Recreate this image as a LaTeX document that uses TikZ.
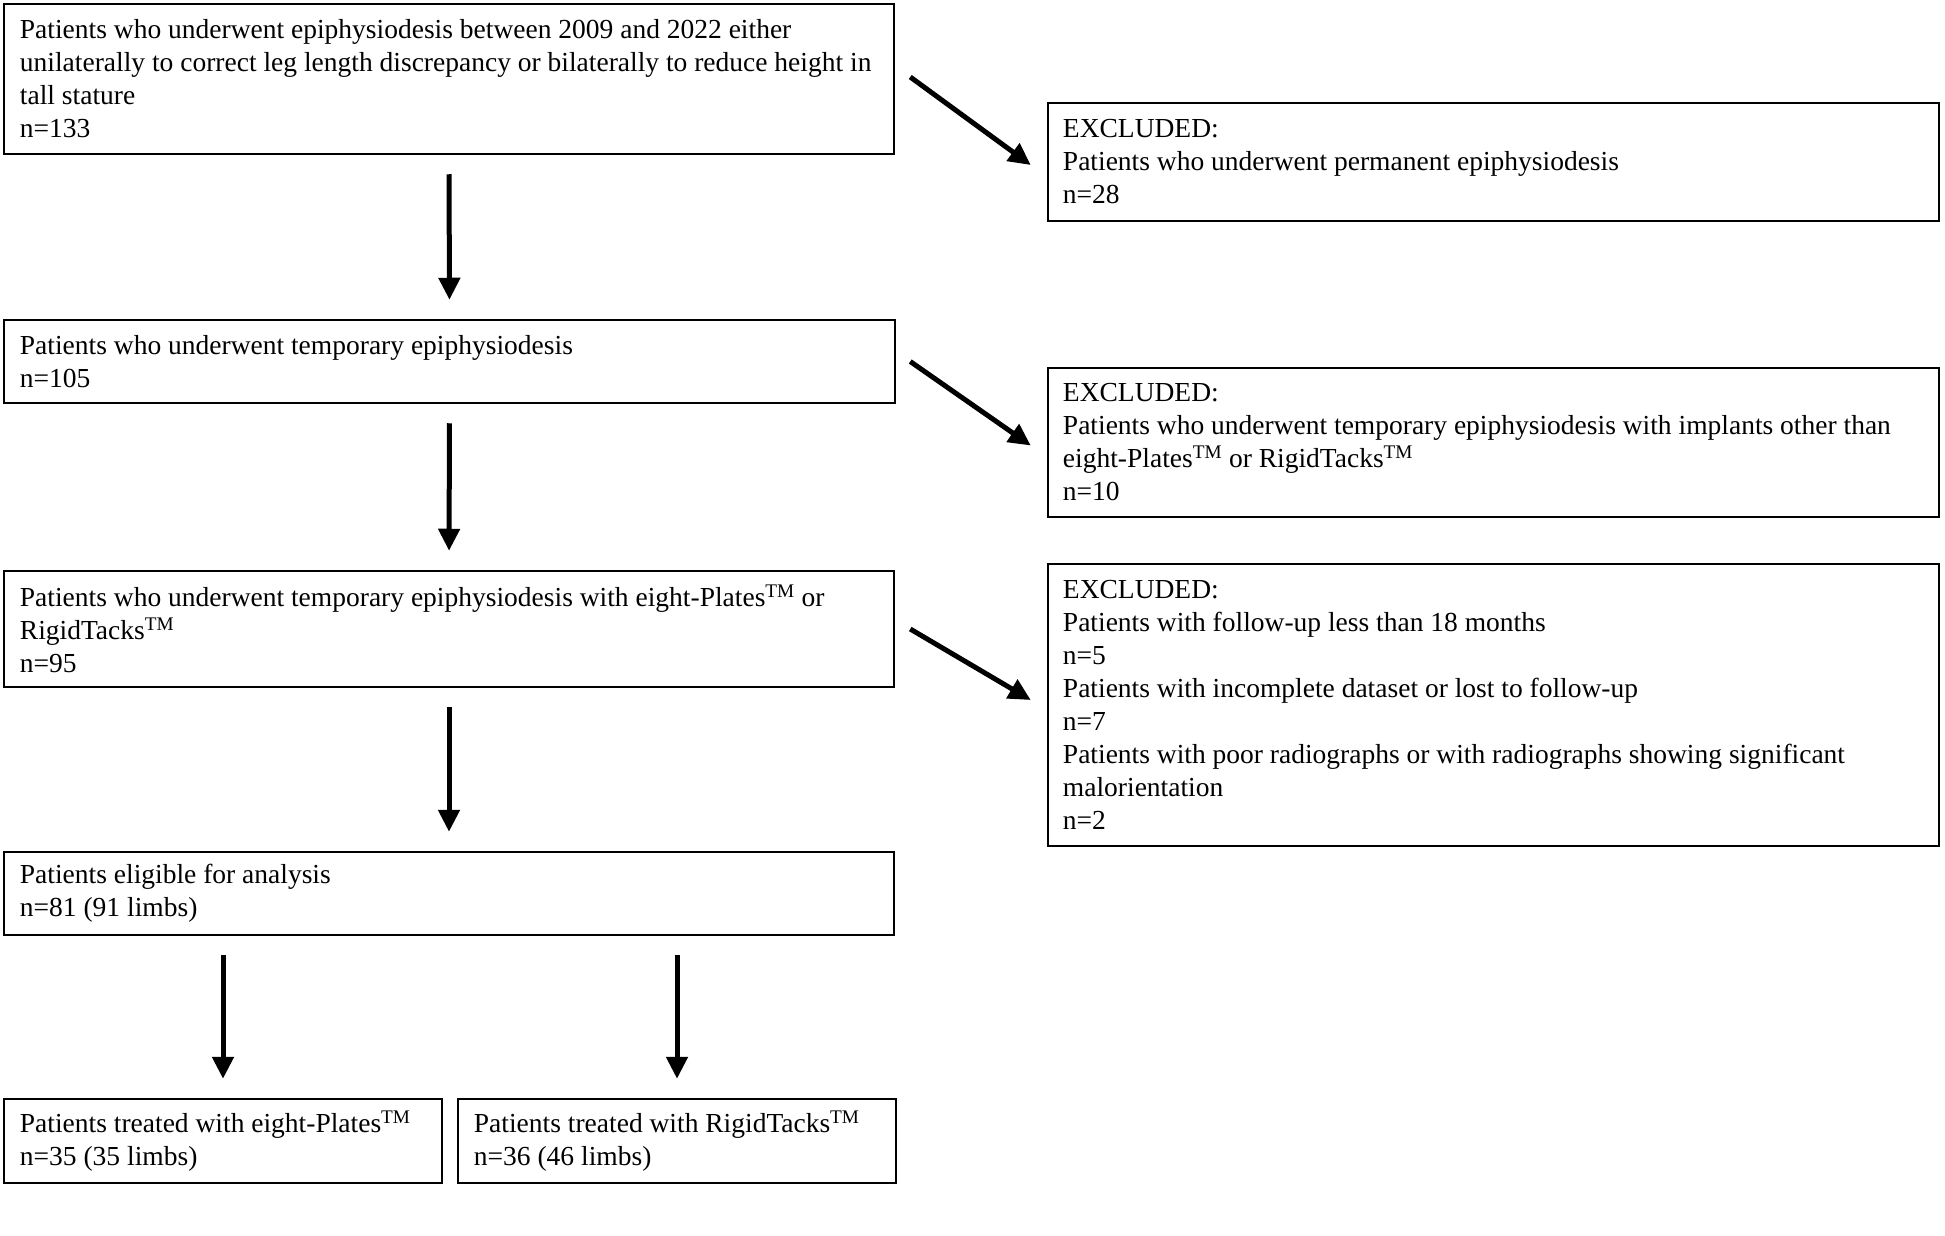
\documentclass[tikz,border=0pt]{standalone}
\usepackage{fontspec}
\setmainfont{Liberation Serif}
\usetikzlibrary{arrows.meta}
\begin{document}
\begin{tikzpicture}[x=1pt,y=-1pt,
  box/.style={draw=black, line width=2.5pt, inner sep=0pt},
  txt/.style={anchor=west, align=left, inner sep=0pt, font=\fontsize{27.5}{33}\selectfont},
  flow/.style={line width=5pt, -{Triangle[length=22pt,width=21pt]}, shorten <=19pt, shorten >=19pt},
  diag/.style={line width=5pt, -{Triangle[length=22pt,width=21pt]}}
]
\fill[white] (0,0) rectangle (1945,1236);
\useasboundingbox (0,0) rectangle (1945,1236);

\node[box, minimum width=890pt, minimum height=150pt] (b1) at (449,79) {};
\node[box, minimum width=891pt, minimum height=118pt] (e1) at (1493.5,162) {};
\node[box, minimum width=891pt, minimum height=83pt] (b2) at (449.5,361.5) {};
\node[box, minimum width=891pt, minimum height=149pt] (e2) at (1493.5,442.5) {};
\node[box, minimum width=890pt, minimum height=116pt] (b3) at (449,629) {};
\node[box, minimum width=891pt, minimum height=282pt] (e3) at (1493.5,705) {};
\node[box, minimum width=890pt, minimum height=83pt] (b4) at (449,893.5) {};
\node[box, minimum width=438pt, minimum height=84pt] (b5a) at (223,1141) {};
\node[box, minimum width=438pt, minimum height=84pt] (b5b) at (677,1141) {};

\node[txt] (t1) at ([xshift=17pt]b1.west) {Patients who underwent epiphysiodesis between 2009 and 2022 either\\unilaterally to correct leg length discrepancy or bilaterally to reduce height in\\tall stature\\n=133};
\node[txt] (te1) at ([xshift=16pt]e1.west) {EXCLUDED:\\Patients who underwent permanent epiphysiodesis\\n=28};
\node[txt] (t2) at ([xshift=17pt]b2.west) {Patients who underwent temporary epiphysiodesis\\n=105};
\node[txt] (te2) at ([xshift=16pt]e2.west) {EXCLUDED:\\Patients who underwent temporary epiphysiodesis with implants other than\\eight-Plates\textsuperscript{TM} or RigidTacks\textsuperscript{TM}\\n=10};
\node[txt] (t3) at ([xshift=17pt]b3.west) {Patients who underwent temporary epiphysiodesis with eight-Plates\textsuperscript{TM} or\\RigidTacks\textsuperscript{TM}\\n=95};
\node[txt] (te3) at ([xshift=16pt]e3.west) {EXCLUDED:\\Patients with follow-up less than 18 months\\n=5\\Patients with incomplete dataset or lost to follow-up\\n=7\\Patients with poor radiographs or with radiographs showing significant\\malorientation\\n=2};
\node[txt] (t4) at ([xshift=17pt]b4.west) {Patients eligible for analysis\\n=81 (91 limbs)};
\node[txt] (t5a) at ([xshift=17pt]b5a.west) {Patients treated with eight-Plates\textsuperscript{TM}\\n=35 (35 limbs)};
\node[txt] (t5b) at ([xshift=17pt]b5b.west) {Patients treated with RigidTacks\textsuperscript{TM}\\n=36 (46 limbs)};

\draw[flow] (b1.south) -- (b2.north);
\draw[flow] (b2.south) -- (b3.north);
\draw[flow] (b3.south) -- (b4.north);
\draw[flow] (b5a.north |- b4.south) -- (b5a.north);
\draw[flow] (b5b.north |- b4.south) -- (b5b.north);

\draw[diag] ([xshift=15pt,yshift=2pt]b1.east) -- ([xshift=-16pt,yshift=-3pt]e1.west);
\draw[diag] ([xshift=14pt]b2.east) -- ([xshift=-16pt,yshift=-3pt]e2.west);
\draw[diag] ([xshift=15pt]b3.east) -- ([xshift=-16pt,yshift=5pt]e3.west);
\end{tikzpicture}
\end{document}
